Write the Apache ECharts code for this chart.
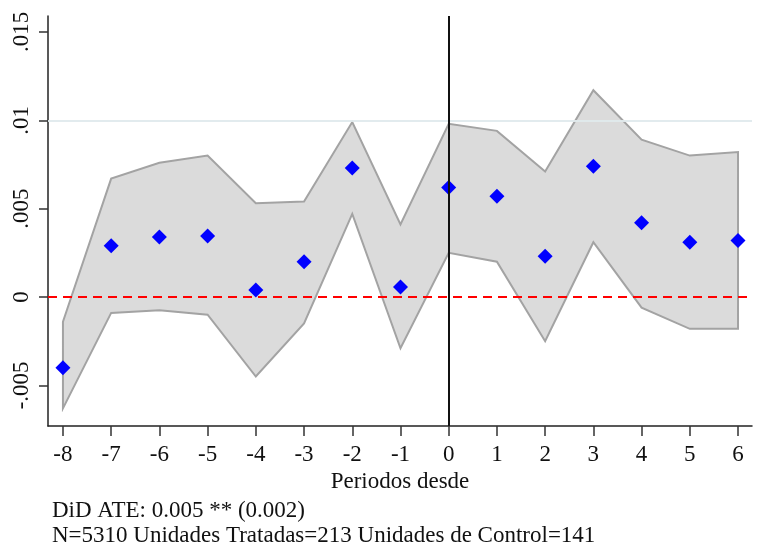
<!DOCTYPE html>
<html>
<head>
<meta charset="utf-8">
<script src="https://cdn.jsdelivr.net/npm/echarts@6/dist/echarts.min.js"></script>
<style>
  html, body { margin: 0; padding: 0; background: #fff; }
  #chart { width: 757px; height: 550px; }
</style>
</head>
<body>
<div id="chart"></div>
<script>
// Event-study estimates by period relative to treatment
const periods = [-8, -7, -6, -5, -4, -3, -2, -1, 0, 1, 2, 3, 4, 5, 6];
const estimates = [-0.0040, 0.0029, 0.0034, 0.00345, 0.0004, 0.0020, 0.0073, 0.00057, 0.0062, 0.0057, 0.0023, 0.0074, 0.0042, 0.0031, 0.0032];
const ciUpper = [-0.0014, 0.0067, 0.0076, 0.0080, 0.0053, 0.0054, 0.0099, 0.0041, 0.0098, 0.0094, 0.0071, 0.0117, 0.0089, 0.0080, 0.0082];
const ciLower = [-0.0063, -0.0009, -0.00075, -0.0010, -0.0045, -0.0015, 0.0047, -0.0029, 0.0025, 0.0020, -0.0025, 0.0031, -0.0006, -0.0018, -0.0018];
const yTicks = [-0.005, 0, 0.005, 0.01, 0.015];
const gridValues = [-0.005, 0.005, 0.01];
const notes = ['DiD ATE: 0.005 ** (0.002)', 'N=5310 Unidades Tratadas=213 Unidades de Control=141'];

const serif = 'Liberation Serif';
const fontSize = 23;
const fmtY = v => {
  if (v === 0) return '0';
  const s = String(Math.abs(+v.toFixed(4))).replace(/^0/, '');
  return (v < 0 ? '-' : '') + s;
};

const chart = echarts.init(document.getElementById('chart'), null, { renderer: 'canvas' });

chart.setOption({
  animation: false,
  backgroundColor: '#fff',
  textStyle: { fontFamily: serif },
  grid: { left: 48, right: 5, top: 16, bottom: 124, containLabel: false },
  xAxis: {
    type: 'value',
    min: -8.31,
    max: 6.29,
    name: 'Periodos desde',
    nameLocation: 'middle',
    nameGap: 44,
    nameTextStyle: { fontFamily: serif, fontSize: fontSize, color: '#111' },
    axisLine: { onZero: false, lineStyle: { color: '#222', width: 1.5 } },
    axisTick: { show: true, length: 10, customValues: periods, lineStyle: { color: '#333', width: 1.5 } },
    axisLabel: { customValues: periods, fontFamily: serif, fontSize: fontSize, color: '#111', margin: 17 },
    splitLine: { show: false }
  },
  yAxis: {
    type: 'value',
    min: -0.0073,
    max: 0.0159,
    axisLine: { show: true, onZero: false, lineStyle: { color: '#222', width: 1.5 } },
    axisTick: { show: true, length: 9, customValues: yTicks, lineStyle: { color: '#333', width: 1.5 } },
    axisLabel: {
      customValues: yTicks, rotate: 90, fontFamily: serif, fontSize: fontSize, color: '#111', margin: 15,
      formatter: fmtY
    },
    splitLine: { show: false }
  },
  series: [
    {
      // faint horizontal grid lines and the zero reference line
      type: 'line',
      data: [],
      silent: true,
      z: 1,
      markLine: {
        silent: true,
        symbol: 'none',
        label: { show: false },
        data: gridValues.map(v => ({ yAxis: v, lineStyle: { color: '#e0eaed', width: 1.5, type: 'solid' } }))
          .concat([{ yAxis: 0, lineStyle: { color: '#ff0000', width: 2, type: [9, 6] } }])
      }
    },
    {
      // confidence band drawn as one closed polygon
      type: 'custom',
      z: 2,
      silent: true,
      data: periods.map((p, i) => [p, ciLower[i], ciUpper[i]]),
      encode: { x: 0, y: [1, 2] },
      renderItem: (params, api) => {
        if (params.dataIndex !== 0) return null;
        const pts = [];
        periods.forEach((p, i) => pts.push(api.coord([p, ciUpper[i]])));
        for (let i = periods.length - 1; i >= 0; i--) pts.push(api.coord([periods[i], ciLower[i]]));
        return {
          type: 'polygon',
          shape: { points: pts },
          style: { fill: 'rgba(190,190,190,0.55)', stroke: '#a3a3a3', lineWidth: 2, lineJoin: 'miter' }
        };
      }
    },
    {
      // treatment onset marker
      type: 'line',
      data: [],
      silent: true,
      z: 3,
      markLine: {
        silent: true,
        symbol: 'none',
        label: { show: false },
        data: [{ xAxis: 0, lineStyle: { color: '#111', width: 2, type: 'solid' } }]
      }
    },
    {
      type: 'scatter',
      z: 4,
      symbol: 'diamond',
      symbolSize: [15, 15],
      itemStyle: { color: '#0000ff', opacity: 1 },
      data: periods.map((p, i) => [p, estimates[i]])
    }
  ],
  graphic: [
    { type: 'text', left: 52, top: 499, style: { text: notes[0], font: fontSize + 'px "Liberation Serif"', fill: '#111' } },
    { type: 'text', left: 52, top: 524, style: { text: notes[1], font: fontSize + 'px "Liberation Serif"', fill: '#111' } }
  ]
});
</script>
</body>
</html>
